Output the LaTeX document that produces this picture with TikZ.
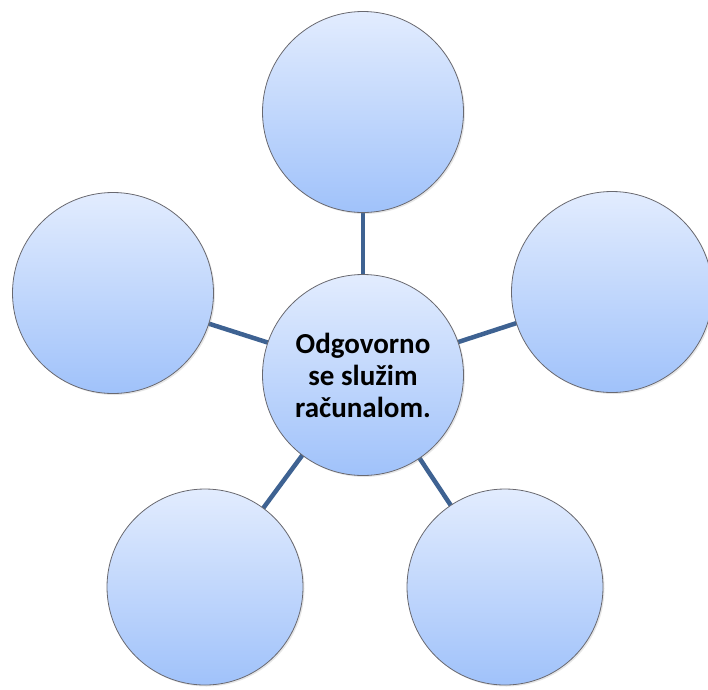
\documentclass[tikz,border=0pt]{standalone}
\usepackage{fontspec}
\setmainfont{Carlito}
\usetikzlibrary{shadows}
\definecolor{circletop}{RGB}{226,236,254}
\definecolor{circlebottom}{RGB}{160,194,250}
\definecolor{circleborder}{RGB}{105,105,112}
\definecolor{linkblue}{RGB}{62,98,146}
\tikzset{
        treenode/.style={align=center,inner sep=0pt},
        % Outer circles
        node_idea/.style={treenode, circle, draw=circleborder, line width=0.8pt, top color=circletop, bottom color=circlebottom, minimum size=201pt, drop shadow={opacity=0.2, shadow xshift=1.5pt, shadow yshift=-1.5pt}},
        % Middle circle
        node_center/.style={node_idea, font=\bfseries\fontsize{29}{32}\selectfont},
        % Links
        line_link/.style={draw=linkblue, line width=4.5pt}
}
\begin{document}
\begin{tikzpicture}[x=1pt, y=-1pt]
            \useasboundingbox (0,0) rectangle (708,689);
            \clip (0,0) rectangle (708,689);
            \draw[line_link] (363,373) -- (363,112);
            \draw[line_link] (363,373) -- (113,293);
            \draw[line_link] (363,373) -- (612,292);
            \draw[line_link] (363,373) -- (205,587);
            \draw[line_link] (363,373) -- (505,587);
            \node[node_idea] (top) at (363,112) {};
            \node[node_idea] (left) at (113,293) {};
            \node[node_idea] (right) at (612,292) {};
            \node[node_idea, minimum size=196pt] (bottom_left) at (205,587) {};
            \node[node_idea, minimum size=196pt] (bottom_right) at (505,587) {};
            \node[node_center] (center) at (363,375) {Odgovorno\\se služim\\računalom.};
        \end{tikzpicture}
\end{document}
